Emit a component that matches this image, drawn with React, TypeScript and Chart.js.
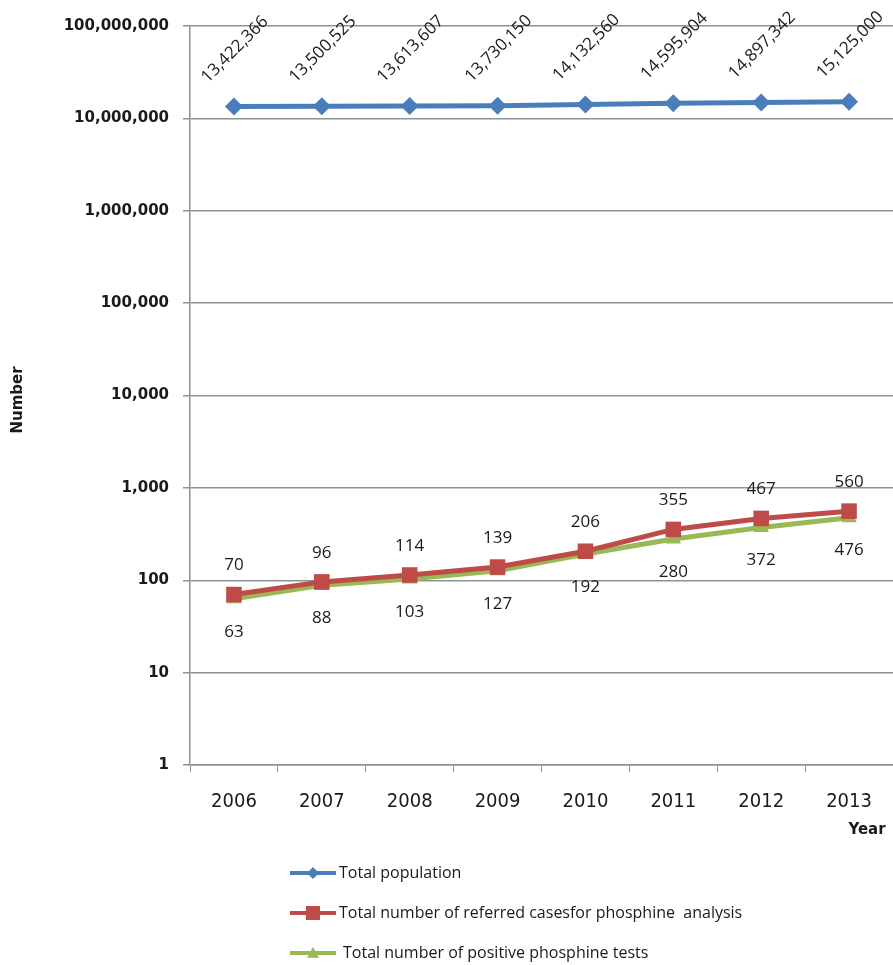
import React, { useEffect, useRef } from "react";
import { Chart, registerables } from "chart.js";

Chart.register(...registerables);

const years = ["2006", "2007", "2008", "2009", "2010", "2011", "2012", "2013"];
const totalPopulation = [13422366, 13500525, 13613607, 13730150, 14132560, 14595904, 14897342, 15125000];
const referredCases = [70, 96, 114, 139, 206, 355, 467, 560];
const positiveTests = [63, 88, 103, 127, 192, 280, 372, 476];
const yTickValues = [1, 10, 100, 1000, 10000, 100000, 1000000, 10000000, 100000000];
const seriesNames = [
  "Total population",
  "Total number of referred casesfor phosphine  analysis",
  "Total number of positive phosphine tests",
];

const BLUE = "#4A7EBB";
const RED = "#BE4B48";
const GREEN = "#98B954";
const GRID = "#8c9396";
const TEXT = "#1a1a1a";

const fmt = (v: number) => v.toLocaleString("en-US");

function drawMarker(ctx: CanvasRenderingContext2D, kind: string, x: number, y: number, r: number, color: string) {
  ctx.save();
  ctx.fillStyle = color;
  ctx.beginPath();
  if (kind === "diamond") {
    ctx.moveTo(x, y - r);
    ctx.lineTo(x + r, y);
    ctx.lineTo(x, y + r);
    ctx.lineTo(x - r, y);
  } else if (kind === "square") {
    ctx.rect(x - r, y - r, 2 * r, 2 * r);
  } else {
    ctx.moveTo(x, y - r);
    ctx.lineTo(x + r, y + r * 0.8);
    ctx.lineTo(x - r, y + r * 0.8);
  }
  ctx.closePath();
  ctx.fill();
  ctx.restore();
}

const labelsPlugin = {
  id: "customLabels",
  afterDatasetsDraw(chart: any) {
    const ctx: CanvasRenderingContext2D = chart.ctx;
    ctx.save();
    ctx.fillStyle = TEXT;
    ctx.font = "500 17px 'Open Sans'";
    ctx.textAlign = "center";
    ctx.textBaseline = "middle";
    chart.data.datasets.forEach((ds: any, di: number) => {
      const meta = chart.getDatasetMeta(di);
      meta.data.forEach((pt: any, i: number) => {
        const v = ds.data[i];
        if (di === 0) {
          ctx.save();
          ctx.translate(pt.x + 1, pt.y - 57);
          ctx.rotate(-Math.PI / 4);
          ctx.fillText(fmt(v), 0, 0);
          ctx.restore();
        } else if (di === 1) {
          ctx.fillText(fmt(v), pt.x, pt.y - 29);
        } else {
          ctx.fillText(fmt(v), pt.x, pt.y + 33);
        }
      });
    });
    ctx.restore();
  },
  afterDraw(chart: any) {
    const ctx: CanvasRenderingContext2D = chart.ctx;
    ctx.save();
    // axis titles
    ctx.fillStyle = TEXT;
    ctx.textAlign = "center";
    ctx.textBaseline = "middle";
    ctx.font = "bold 15px 'DejaVu Sans'";
    ctx.save();
    ctx.translate(18, 400);
    ctx.rotate(-Math.PI / 2);
    ctx.fillText("Number", 0, 0);
    ctx.restore();
    ctx.font = "bold 15px 'DejaVu Sans'";
    ctx.fillText("Year", 867, 830);

    // legend
    const rows = [873, 913, 953];
    const colors = [BLUE, RED, GREEN];
    const kinds = ["diamond", "square", "triangle"];
    const textX = [339, 339, 343];
    ctx.font = "16px 'Open Sans'";
    ctx.textAlign = "left";
    rows.forEach((y, i) => {
      ctx.strokeStyle = colors[i];
      ctx.lineWidth = 4;
      ctx.beginPath();
      ctx.moveTo(290, y);
      ctx.lineTo(336, y);
      ctx.stroke();
      drawMarker(ctx, kinds[i], 313, y, i === 1 ? 7 : 6, colors[i]);
      ctx.fillStyle = TEXT;
      ctx.fillText(seriesNames[i], textX[i], y);
    });
    ctx.restore();
  },
};

export default function App() {
  const ref = useRef<HTMLCanvasElement>(null);
  useEffect(() => {
    document.body.style.margin = "0";
    const chart = new Chart(ref.current!, {
      type: "line",
      data: {
        labels: years,
        datasets: [
          {
            label: seriesNames[0],
            data: totalPopulation,
            borderColor: BLUE,
            backgroundColor: BLUE,
            borderWidth: 5,
            pointStyle: "rectRot",
            pointRadius: 9,
            pointBorderWidth: 0,
          },
          {
            label: seriesNames[1],
            data: referredCases,
            borderColor: RED,
            backgroundColor: RED,
            borderWidth: 5,
            pointStyle: "rect",
            pointRadius: 11,
            pointBorderWidth: 0,
          },
          {
            label: seriesNames[2],
            data: positiveTests,
            borderColor: GREEN,
            backgroundColor: GREEN,
            borderWidth: 5,
            pointStyle: "triangle",
            pointRadius: 9,
            pointBorderWidth: 0,
          },
        ],
      },
      options: {
        animation: false,
        responsive: false,
        layout: { autoPadding: false, padding: { left: 0, right: 0, top: 26, bottom: 140 } },
        plugins: { legend: { display: false }, tooltip: { enabled: false } },
        scales: {
          x: {
            type: "category",
            offset: true,
            grid: {
              display: true,
              offset: true,
              drawOnChartArea: false,
              drawTicks: true,
              tickLength: 7,
              color: GRID,
            },
            border: { display: true, color: GRID, width: 1.5 },
            ticks: {
              color: TEXT,
              padding: 18,
              maxRotation: 0,
              font: { family: "'Liberation Sans Narrow', 'Arial Narrow', 'DejaVu Sans Condensed', sans-serif", size: 20 },
            },
            afterFit: (scale: any) => {
              scale.height = 60;
              scale.paddingLeft = 0;
              scale.paddingRight = 0;
            },
          },
          y: {
            type: "logarithmic",
            min: 1,
            max: 100000000,
            afterBuildTicks: (scale: any) => {
              scale.ticks = yTickValues.map((v) => ({ value: v }));
            },
            afterFit: (scale: any) => {
              scale.width = 190;
            },
            grid: {
              color: GRID,
              lineWidth: 1.5,
              drawTicks: true,
              tickLength: 7,
            },
            border: { display: true, color: GRID, width: 1.5 },
            ticks: {
              color: TEXT,
              padding: 14,
              autoSkip: false,
              font: { family: "'DejaVu Sans', sans-serif", size: 15, weight: "bold" },
              callback: (v: any) => fmt(Number(v)),
            },
          },
        },
      },
      plugins: [labelsPlugin],
    });
    return () => chart.destroy();
  }, []);
  return <canvas ref={ref} width={893} height={965} style={{ display: "block" }} />;
}
